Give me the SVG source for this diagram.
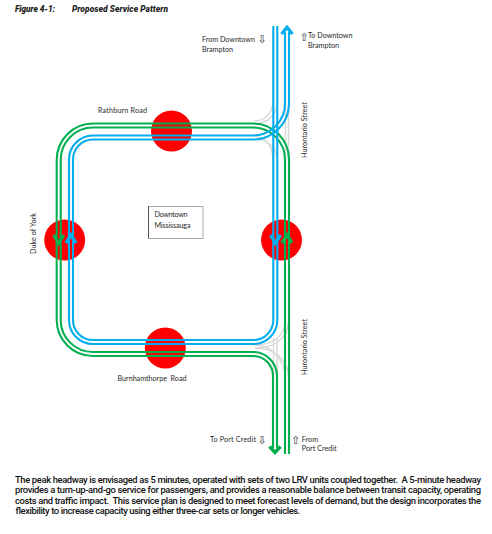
<svg xmlns="http://www.w3.org/2000/svg" width="492" height="534" viewBox="0 0 492 534">
<style>
text{font-family:"Lato","Liberation Sans",sans-serif;fill:#2a2a2a}
.l{font-size:7.200px}
.b{font-family:"Roboto","Liberation Sans",sans-serif;font-size:9.400px;font-weight:500;fill:#111}
.h{font-family:"Roboto","Liberation Sans",sans-serif;font-size:8.400px;font-weight:900;font-style:italic;fill:#222}
.g{font-family:"DejaVu Sans",sans-serif;font-size:11px;fill:#333}
.s{fill:#f00}
path{fill:none}
.gn{stroke:#00b050;stroke-width:2.100}
.bl{stroke:#00aeef;stroke-width:2.100}
.gy{stroke:#d9d9d9;stroke-width:1.500}
.gh{stroke:#00b050;stroke-width:3.400}
.bh{stroke:#00aeef;stroke-width:3.400}
</style>
<text class="h" x="15" y="12" textLength="40">Figure 4-1:</text>
<text class="h" x="72" y="12" textLength="96">Proposed Service Pattern</text>
<g id="station-rathburn"><circle class="s" cx="171.500" cy="131" r="20.500"/></g>
<g id="station-duke"><circle class="s" cx="64.700" cy="240" r="20.500"/></g>
<g id="station-hurontario"><circle class="s" cx="281.500" cy="240" r="20.500"/></g>
<g id="station-burnhamthorpe"><circle class="s" cx="165.300" cy="348" r="20.500"/></g>
<g id="connectors">
<g class="gy">
<path d="M255 121C266 120 272 113 273 102"/><path d="M255 124C268 123 277 115 277 102"/>
<path d="M255 136C266 138 272 146 273 158"/><path d="M255 139C268 140 277 148 277 158"/>
<path d="M285.500 107V160"/><path d="M288.500 107V160"/>
<path d="M255 345C270 345 284 338 285.500 322"/><path d="M255 348C272 348 288 340 288.500 322"/>
<path d="M255 345C270 345 284 358 285.500 377"/><path d="M255 348C272 348 288 358 288.500 377"/>
<path d="M273.500 338V377"/><path d="M277 338V377"/>
</g>
<path class="gn" d="M93 123.500H253A36 36 0 0 1 289 159.500V454"/>
<path class="gn" d="M93 127.500H253A32 32 0 0 1 285 159.500V454"/>
<path class="gn" d="M93 123.500A36.300 36.500 0 0 0 56.700 160V320A36.300 36 0 0 0 93 356H253A20 20 0 0 1 273 376V448"/>
<path class="gn" d="M93 127.500A32.300 32.500 0 0 0 60.700 160V320A32.300 32 0 0 0 93 352H253A24 24 0 0 1 277 376V448"/>
<path class="bl" d="M273.300 26V320A20 20 0 0 1 253.300 340H93A20 20 0 0 1 73 320V160A20 20 0 0 1 93 139.500H253A36 36 0 0 0 289 103.500V32"/>
<path class="bl" d="M277.300 26V320A24 24 0 0 1 253.300 344H93A24 24 0 0 1 69 320V160A24 24 0 0 1 93 135.500H253A32 32 0 0 0 285 103.500V32"/>
<path class="gh" d="M269.500 446.500L275 452.500L280.500 446.500"/>
<path class="bh" d="M281.500 34L287 27.500L292.500 34"/>
<path class="gh" d="M53.700 235L58.700 243L63.700 235"/>
<path class="bh" d="M66 243L71 235L76 243"/>
<path class="bh" d="M270.500 235L275.500 243L280.500 235"/>
<path class="gh" d="M282 243L287 235L292 243"/>
</g>
<g id="box-downtown"><rect x="148.500" y="206.500" width="54.500" height="32" fill="#fff" stroke="#aaa"/>
<path d="M148.500 206.500V238.500" stroke="#555"/>
<text class="l" x="154.500" y="217" textLength="33">Downtown</text><text class="l" x="154.500" y="227.500" textLength="36">Mississauga</text></g>
<text class="l" x="98" y="112.500" textLength="49">Rathburn Road</text>
<text class="l" x="117.500" y="381" textLength="69" xml:space="preserve">Burnhamthorpe  Road</text>
<text class="l" transform="translate(35.500 254) rotate(-90)" textLength="41">Duke of York</text>
<text class="l" transform="translate(306.800 158) rotate(-90)" textLength="56">Hurontario Street</text>
<text class="l" transform="translate(306.800 375) rotate(-90)" textLength="56">Hurontario Street</text>
<text class="l" x="202" y="42" textLength="53">From Downtown</text><text class="g" x="257.500" y="43">⇩</text>
<text class="l" x="202" y="52.200" textLength="31">Brampton</text>
<text class="g" x="299.500" y="41">⇧</text><text class="l" x="308" y="38.300" textLength="44.500">To Downtown</text>
<text class="l" x="308" y="48.300" textLength="31">Brampton</text>
<text class="l" x="210" y="442.300" textLength="46">To Port Credit</text><text class="g" x="257.500" y="444">⇩</text>
<text class="g" x="291" y="444">⇧</text><text class="l" x="301.700" y="441.700" textLength="16.500">From</text>
<text class="l" x="301.700" y="451" textLength="35">Port Credit</text>
<text class="b" x="15" y="483" textLength="466" xml:space="preserve">The peak headway is envisaged as 5 minutes, operated with sets of two LRV units coupled together.  A 5-minute headway</text>
<text class="b" x="15" y="493" textLength="466">provides a turn-up-and-go service for passengers, and provides a reasonable balance between transit capacity, operating</text>
<text class="b" x="15" y="503.500" textLength="466" xml:space="preserve">costs and traffic impact.  This service plan is designed to meet forecast levels of demand, but the design incorporates the</text>
<text class="b" x="15" y="514" textLength="285">flexibility to increase capacity using either three-car sets or longer vehicles.</text>
</svg>
